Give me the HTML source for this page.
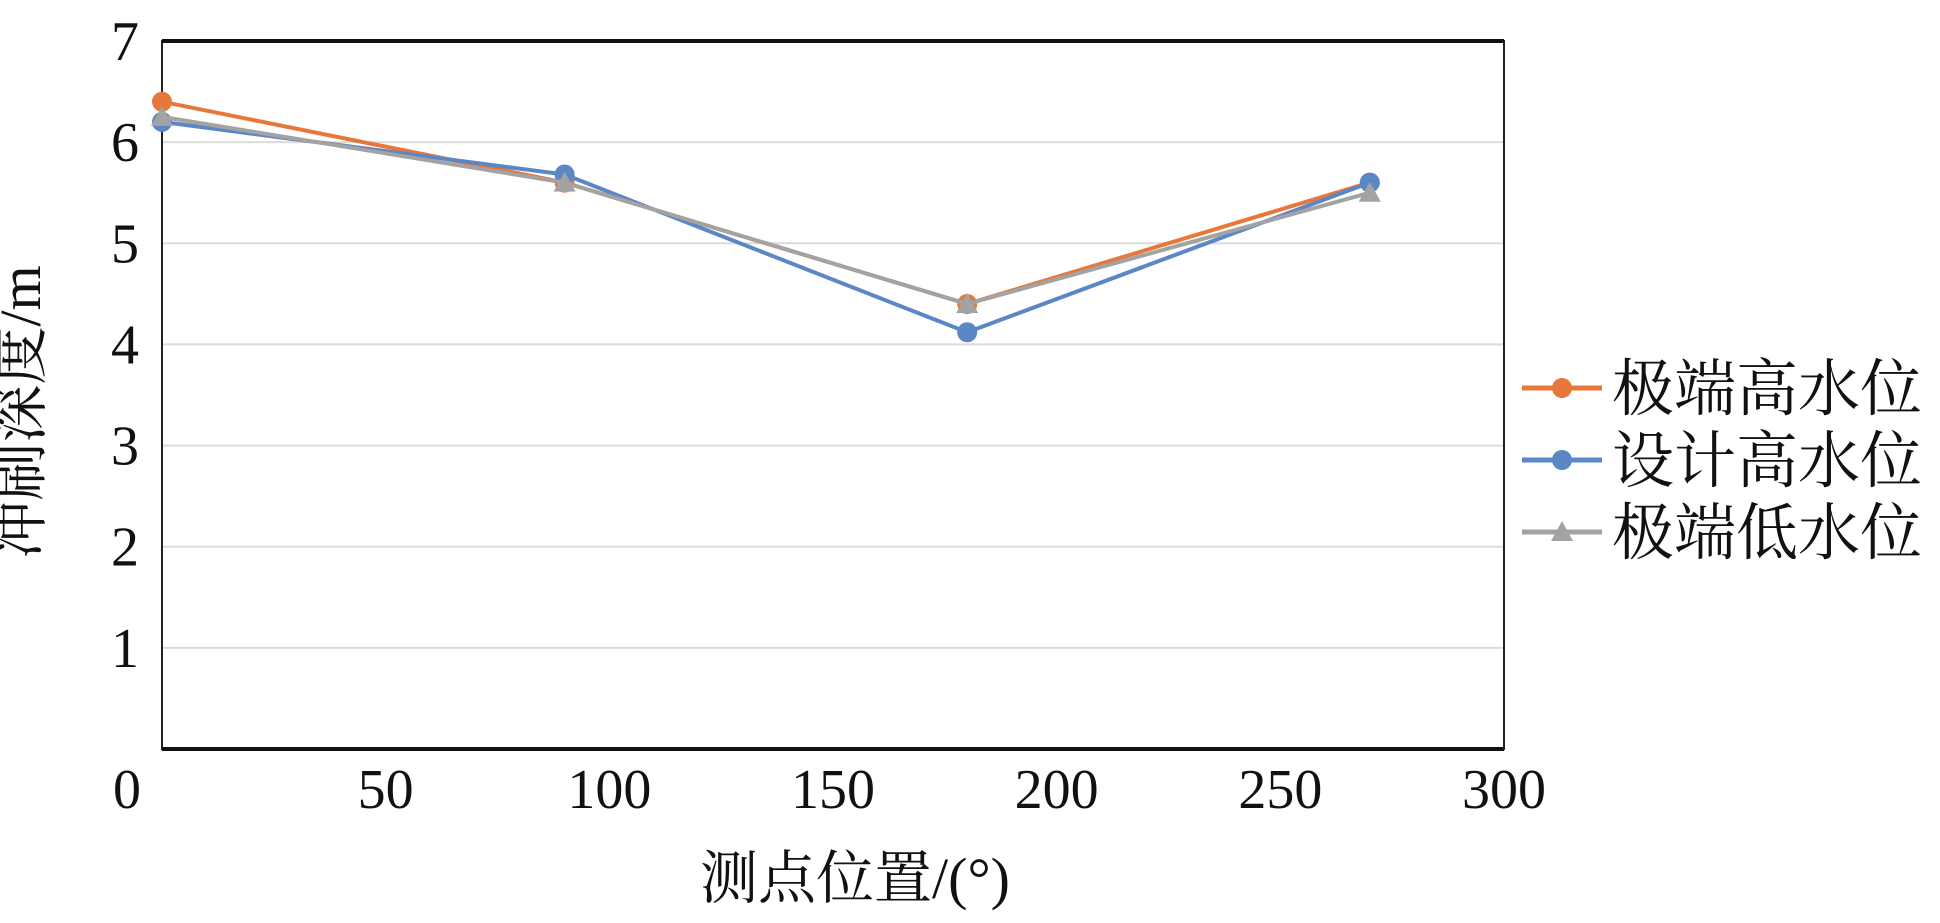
<!DOCTYPE html>
<html><head><meta charset="utf-8"><style>
html,body{margin:0;padding:0;background:#fff}
svg text{font-family:"Liberation Serif","Noto Serif CJK SC",serif;fill:#111}
</style></head><body>
<svg width="1940" height="918" viewBox="0 0 1940 918" xmlns="http://www.w3.org/2000/svg">
<g id="grid"></g>
<g id="axes"></g>
<g id="series"></g>
<text x="40" y="412" font-size="58" text-anchor="middle" transform="rotate(-90 40 412)">冲刷深度/m</text>
<text x="855" y="898" font-size="58" text-anchor="middle">测点位置/(°)</text>
<g id="legend"></g>
</svg>
<script>
const xCats=[0,90,180,270];
const sHigh=[6.4,5.6,4.4,5.6];
const sDesign=[6.2,5.68,4.12,5.6];
const sLow=[6.25,5.6,4.4,5.5];
const xTicks=[0,50,100,150,200,250,300];
const yTicks=[1,2,3,4,5,6,7];
const names=["极端高水位","设计高水位","极端低水位"];
const NS="http://www.w3.org/2000/svg";
const L=162,R=1504,T=41,B=749;
const xs=v=>L+(v-0)/300*(R-L);
const ys=v=>B-v/7*(B-T);
function mk(t,p,a){const e=document.createElementNS(NS,t);for(const k in a)e.setAttribute(k,a[k]);p.appendChild(e);return e;}
const grid=document.getElementById('grid'),axes=document.getElementById('axes'),ser=document.getElementById('series'),leg=document.getElementById('legend');
yTicks.forEach(v=>{
 if(v<7){const g=mk('line',grid,{x1:L,x2:R,y1:ys(v),y2:ys(v),stroke:'#dcdcdc','stroke-width':2});
 
 }
 const t=mk('text',axes,{x:125,y:ys(v)+19,'font-size':56,'text-anchor':'middle'});t.textContent=v;
 
 
});
xTicks.forEach(v=>{
 const t=mk('text',axes,{x:xs(v)-(v===0?35:0),y:808,'font-size':56,'text-anchor':'middle'});t.textContent=v;
 
 
});
const f=mk('rect',axes,{x:L,y:T,width:R-L,height:B-T,fill:'none',stroke:'#222','stroke-width':2});


const t0=mk('line',axes,{x1:L,x2:R,y1:T,y2:T,stroke:'#111','stroke-width':4});


const b0=mk('line',axes,{x1:L,x2:R,y1:B,y2:B,stroke:'#111','stroke-width':4});


const defs=[[sHigh,'#e8773a','circle'],[sDesign,'#5b87c5','circle'],[sLow,'#a3a3a3','tri']];
function marker(p,x,y,c,k){
 if(k==='circle')return mk('circle',p,{cx:x,cy:y,r:10,fill:c});
 return mk('polygon',p,{points:`${x},${y-11} ${x-11},${y+9} ${x+11},${y+9}`,fill:c});
}
defs.forEach((d,i)=>{
 const g=mk('g',ser,{});
 
 
 const pts=d[0].map((v,j)=>xs(xCats[j])+','+ys(v)).join(' ');
 const pl=mk('polyline',g,{points:pts,fill:'none',stroke:d[1],'stroke-width':4});
 
 
 d[0].forEach((v,j)=>{const m=marker(g,xs(xCats[j]),ys(v),d[1],d[2]);
  
  });
 const ly=388+i*72;
 const lg=mk('g',leg,{});
 
 
 mk('line',lg,{x1:1522,x2:1602,y1:ly,y2:ly,stroke:d[1],'stroke-width':5});
 marker(lg,1562,ly,d[1],d[2]);
 const tx=mk('text',lg,{x:1612,y:ly+22,'font-size':62});tx.textContent=names[i];
});
</script>
</body></html>
